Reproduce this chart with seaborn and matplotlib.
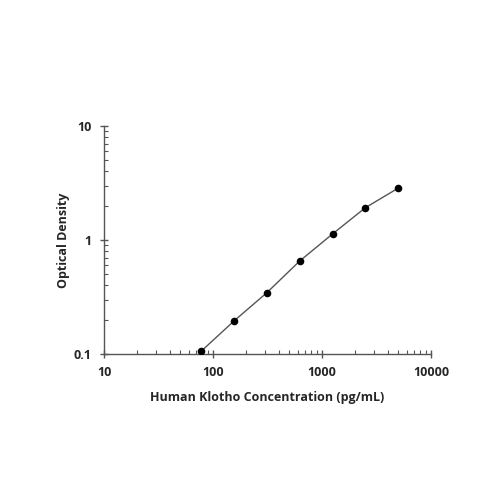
import matplotlib
matplotlib.use('Agg')
import matplotlib.pyplot as plt
import matplotlib.ticker as mticker
import seaborn as sns
import pandas as pd

# Standard curve values
concentration = [78.1, 156, 312, 625, 1250, 2500, 5000]
optical_density = [0.106, 0.195, 0.345, 0.655, 1.13, 1.92, 2.85]

x_ticks = [10, 100, 1000, 10000]
x_tick_labels = ['10', '100', '1000', '10000']
y_ticks = [0.1, 1, 10]
y_tick_labels = ['0.1', '1', '10']

df = pd.DataFrame({'conc': concentration, 'od': optical_density})

sns.set_theme(style='white')
plt.rcParams['font.family'] = ['Open Sans', 'DejaVu Sans']

fig = plt.figure(figsize=(5, 5), dpi=100)
ax = fig.add_axes([0.208, 0.292, 0.654, 0.456])

sns.lineplot(data=df, x='conc', y='od', ax=ax, color='#555555', linewidth=1.0)
sns.scatterplot(data=df, x='conc', y='od', ax=ax, color='black', s=30,
                edgecolor='black', linewidth=0, zorder=3)

ax.set_xscale('log')
ax.set_yscale('log')
ax.set_xlim(10, 10000)
ax.set_ylim(0.1, 10)

ax.set_xticks(x_ticks)
ax.set_xticklabels(x_tick_labels)
ax.set_yticks(y_ticks)
ax.set_yticklabels(y_tick_labels)
ax.xaxis.set_minor_locator(mticker.LogLocator(base=10, subs=range(2, 10)))
ax.yaxis.set_minor_locator(mticker.LogLocator(base=10, subs=range(2, 10)))
ax.xaxis.set_minor_formatter(mticker.NullFormatter())
ax.yaxis.set_minor_formatter(mticker.NullFormatter())

for side in ['top', 'right']:
    ax.spines[side].set_visible(False)
for side in ['left', 'bottom']:
    ax.spines[side].set_color('#555555')
    ax.spines[side].set_linewidth(1.0)

ax.tick_params(which='major', direction='inout', length=6, width=1,
               color='#555555', labelsize=9, pad=6)
ax.tick_params(which='minor', direction='in', length=3, width=0.8,
               color='#555555')
ax.tick_params(which='both', bottom=True, left=True)
for lbl in ax.get_xticklabels() + ax.get_yticklabels():
    lbl.set_fontweight('bold')

ax.set_xlabel('Human Klotho Concentration (pg/mL)', fontsize=9,
              fontweight='bold', va='center')
ax.set_ylabel('Optical Density', fontsize=9, fontweight='bold', va='center')
ax.xaxis.set_label_coords(0.5, -0.189)
ax.yaxis.set_label_coords(-0.125, 0.5)

fig.savefig('out.png', dpi=100)
plt.close(fig)
